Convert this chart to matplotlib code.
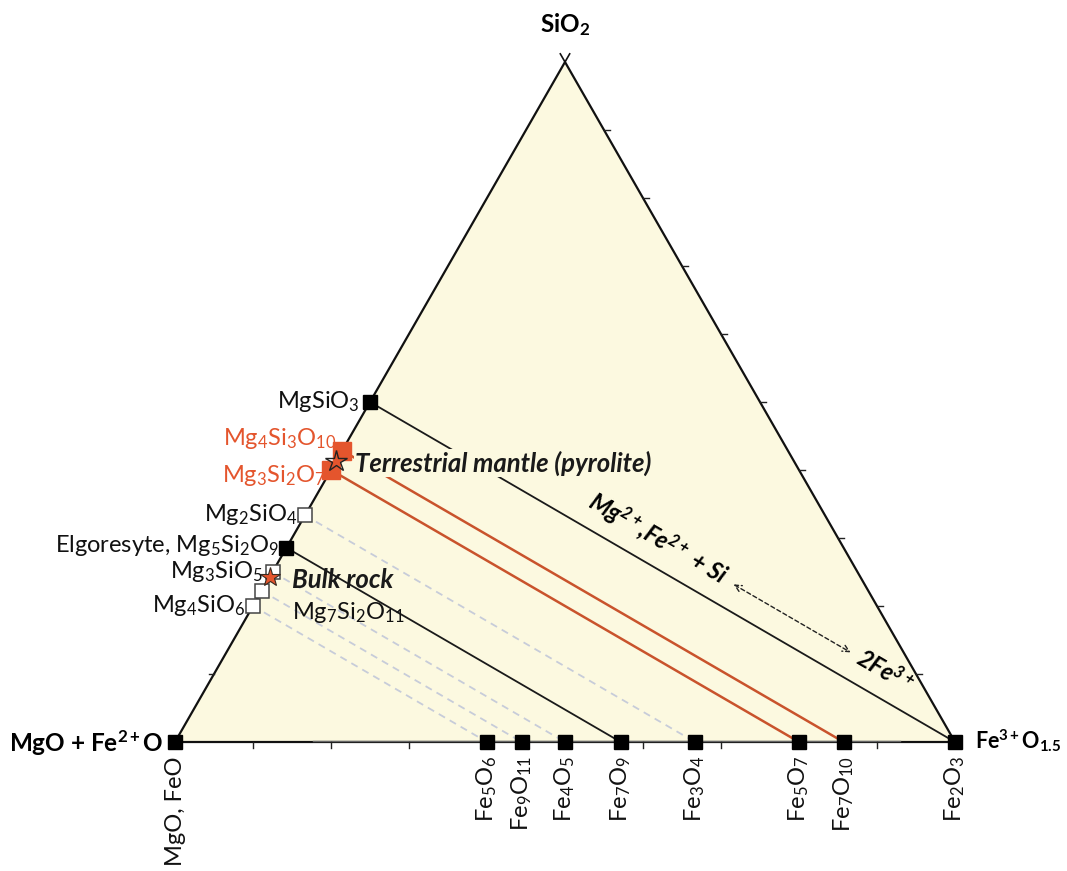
import numpy as np
import matplotlib
matplotlib.use('Agg')
import matplotlib.pyplot as plt
from matplotlib.patches import Polygon

plt.rcParams['font.family'] = ['Lato', 'DejaVu Sans']
plt.rcParams['mathtext.fontset'] = 'custom'
plt.rcParams['mathtext.rm'] = 'Lato'
plt.rcParams['mathtext.it'] = 'Lato:italic'
plt.rcParams['mathtext.bf'] = 'Lato:bold'
plt.rcParams['mathtext.bfit'] = 'Lato:bold:italic'

# ---- data -------------------------------------------------------------
# Mg-silicates on the MgO(+FeO) - SiO2 join (cation counts)
left_labels = ['MgSiO$_3$', 'Mg$_4$Si$_3$O$_{10}$', 'Mg$_3$Si$_2$O$_7$', 'Mg$_2$SiO$_4$',
               'Elgoresyte, Mg$_5$Si$_2$O$_9$', 'Mg$_3$SiO$_5$', 'Mg$_7$Si$_2$O$_{11}$', 'Mg$_4$SiO$_6$']
left_mg = [1, 4, 3, 2, 5, 3, 7, 4]
left_si = [1, 3, 2, 1, 2, 1, 2, 1]
left_kind = ['black', 'red', 'red', 'open', 'black', 'open', 'open', 'open']

# Iron oxides on the Fe2+O - Fe3+O1.5 join (Fe2+, Fe3+ counts)
bottom_labels = ['MgO, FeO', 'Fe$_5$O$_6$', 'Fe$_9$O$_{11}$', 'Fe$_4$O$_5$', 'Fe$_7$O$_9$',
                 'Fe$_3$O$_4$', 'Fe$_5$O$_7$', 'Fe$_7$O$_{10}$', 'Fe$_2$O$_3$']
bottom_fe2 = [1, 3, 5, 2, 3, 1, 1, 1, 0]
bottom_fe3 = [0, 2, 4, 2, 4, 2, 4, 6, 2]

# tie lines (Mg2+ + Si <-> 2Fe3+ substitution): left index, bottom index, style
tie_left = [0, 1, 2, 3, 4, 5, 6, 7]
tie_bottom = [8, 7, 6, 5, 4, 3, 2, 1]
tie_style = ['black', 'red', 'red', 'dashed', 'black', 'dashed', 'dashed', 'dashed']

# stars (SiO2 fraction on MgO-SiO2 join)
star_labels = ['Terrestrial mantle (pyrolite)', 'Bulk rock']
star_si = [0.413, 0.243]

ticks = [0.1, 0.2, 0.3, 0.4, 0.5, 0.6, 0.7, 0.8, 0.9]

# ---- helpers ----------------------------------------------------------
def tern(s, f):
    """s = SiO2 fraction, f = Fe3+O1.5 fraction -> cartesian"""
    s = np.asarray(s, float); f = np.asarray(f, float)
    return f + s / 2.0, s

left_s = np.array(left_si) / (np.array(left_mg) + np.array(left_si))
left_x, left_y = tern(left_s, np.zeros_like(left_s))
bot_f = np.array(bottom_fe3) / (np.array(bottom_fe2) + np.array(bottom_fe3))
bot_x, bot_y = tern(np.zeros_like(bot_f), bot_f)

RED = '#e4552d'
RED_LINE = '#c9532c'
FILL = '#fcf9e0'

fig = plt.figure(figsize=(10.67, 8.71), dpi=100)
ax = fig.add_axes([0, 0, 1, 1])
ax.set_xlim(-175 / 780, 892 / 780)
ax.set_ylim(-129 / 680, 742 / 680)
ax.axis('off')

# triangle
vx, vy = tern([0, 0, 1], [0, 1, 0])
ax.add_patch(Polygon(np.column_stack([vx, vy]), closed=True, facecolor=FILL,
                     edgecolor='#111111', lw=1.6, zorder=1, joinstyle='miter'))
# apex cross
ext = 0.012
ax.plot([0.5, 0.5 + ext * 0.5], [1, 1 + ext], color='#111111', lw=1.2, zorder=2)
ax.plot([0.5, 0.5 - ext * 0.5], [1, 1 + ext], color='#111111', lw=1.2, zorder=2)
# grey overlay on base
ax.plot([0.177, 0.93], [0.002, 0.002], color='#666666', lw=1.0, zorder=2)

# ticks
tl = 6 / 680
for t in ticks:
    ax.plot([t, t], [0, -tl], color='#222222', lw=1.0, zorder=2)
    rx, ry = tern(t, 1 - t)
    ax.plot([rx, rx + 6 / 780], [ry, ry], color='#222222', lw=1.0, zorder=2)
lx, ly = tern(ticks[0], 0)
ax.plot([lx, lx - 5 / 780], [ly, ly], color='#222222', lw=1.0, zorder=2)

# tie lines
for li, bi, st in zip(tie_left, tie_bottom, tie_style):
    xs = [left_x[li], bot_x[bi]]
    ys = [left_y[li], bot_y[bi]]
    if st == 'black':
        ax.plot(xs, ys, color='#1a1a1a', lw=1.3, zorder=3)
    elif st == 'red':
        ax.plot(xs, ys, color=RED_LINE, lw=1.8, zorder=3)
    else:
        ax.plot(xs, ys, color='#c7ccd9', lw=1.3, ls=(0, (4, 3)), zorder=3)

# markers on left
for x, y, k in zip(left_x, left_y, left_kind):
    if k == 'black':
        ax.plot(x, y, 's', ms=9.5, mfc='black', mec='black', zorder=6)
    elif k == 'red':
        ax.plot(x, y, 's', ms=12.5, mfc=RED, mec=RED, zorder=6)
    else:
        ax.plot(x, y, 's', ms=10.5, mfc='white', mec='#444444', mew=1.1, zorder=6)

# markers on bottom
for x, y in zip(bot_x, bot_y):
    ax.plot(x, y, 's', ms=9.5, mfc='black', mec='black', zorder=6)

# stars
sx, sy = tern(star_si, [0, 0])
ax.plot(sx[0], sy[0], '*', ms=16, mfc='none', mec='#222222', mew=1.0, zorder=8)
ax.plot(sx[1], sy[1], '*', ms=15, mfc=RED, mec='#3a2a20', mew=0.8, zorder=8)

FS = 17
# left labels
left_off = [(-10, 1), (-6, 12), (-5, -5), (-8, 1), (-8, 2), (-10, 0), (30, -22), (-8, 1)]
left_ha = ['right', 'right', 'right', 'right', 'right', 'right', 'left', 'right']
for lab, x, y, off, ha, k in zip(left_labels, left_x, left_y, left_off, left_ha, left_kind):
    ax.annotate(lab, (x, y), xytext=off, textcoords='offset pixels', ha=ha, va='center',
                fontsize=FS, color=(RED if k == 'red' else '#111111'), zorder=9)

# star labels
star_off = [(19, -2), (22, -3)]
for i, (lab, off) in enumerate(zip(star_labels, star_off)):
    kw = {}
    if i == 0:
        kw['bbox'] = dict(boxstyle='square,pad=0.05', fc=FILL, ec='none')
    ax.annotate(lab, (sx[i], sy[i]), xytext=off, textcoords='offset pixels', ha='left',
                va='center', fontsize=18.5, fontweight='bold', fontstyle='italic',
                color='#1a1a1a', zorder=7, **kw)

# bottom labels (rotated)
for lab, x, y in zip(bottom_labels, bot_x, bot_y):
    ax.annotate(lab, (x, y), xytext=(0, -14), textcoords='offset pixels', ha='center',
                va='top', rotation=90, fontsize=FS, color='#111111', zorder=9)

# vertex labels
VFS = 17.5
ax.annotate('SiO$_\\mathbf{2}$', (vx[2], vy[2]), xytext=(0, 37), textcoords='offset pixels',
            ha='center', va='center', fontsize=VFS, fontweight='bold')
ax.annotate('MgO + Fe$^{\\mathbf{2+}}$O', (vx[0], vy[0]), xytext=(-12, 0), textcoords='offset pixels',
            ha='right', va='center', fontsize=VFS, fontweight='bold')
ax.annotate('Fe$^{\\mathbf{3+}}$O$_{\\mathbf{1.5}}$', (vx[1], vy[1]), xytext=(20, 1),
            textcoords='offset pixels', ha='left', va='center', fontsize=15.5, fontweight='bold')

# substitution arrow text along the MgSiO3 - Fe2O3 line
p0 = np.array([left_x[0], left_y[0]])
p1 = np.array([bot_x[8], bot_y[8]])
s0 = ax.transData.transform(p0)
s1 = ax.transData.transform(p1)
d = s1 - s0
ang = np.degrees(np.arctan2(d[1], d[0]))
u = d / np.hypot(*d)
nrm = np.array([-u[1], u[0]])
if nrm[1] < 0:
    nrm = -nrm
D = 27

def along(t):
    return tuple(p0 + t * (p1 - p0))

off = tuple(nrm * D)
ax.annotate('Mg$^{\\mathbfit{2+}}$,Fe$^{\\mathbfit{2+}}$ + Si', along(0.354), xytext=off,
            textcoords='offset pixels', ha='left', va='center', rotation=ang,
            rotation_mode='anchor', fontsize=17, fontweight='bold', fontstyle='italic', zorder=9)
ax.annotate('2Fe$^{\\mathbfit{3+}}$', along(0.812), xytext=off,
            textcoords='offset pixels', ha='left', va='center', rotation=ang,
            rotation_mode='anchor', fontsize=17, fontweight='bold', fontstyle='italic', zorder=9)
a0 = ax.transData.inverted().transform(ax.transData.transform(along(0.6)) + nrm * (D - 2))
a1 = ax.transData.inverted().transform(ax.transData.transform(along(0.8)) + nrm * (D - 2))
ax.annotate('', xy=a1, xytext=a0,
            arrowprops=dict(arrowstyle='<->', color='#222222', lw=1.0, ls=(0, (3, 2)),
                            shrinkA=0, shrinkB=0, mutation_scale=12), zorder=9)

fig.savefig('out.png', dpi=100)
